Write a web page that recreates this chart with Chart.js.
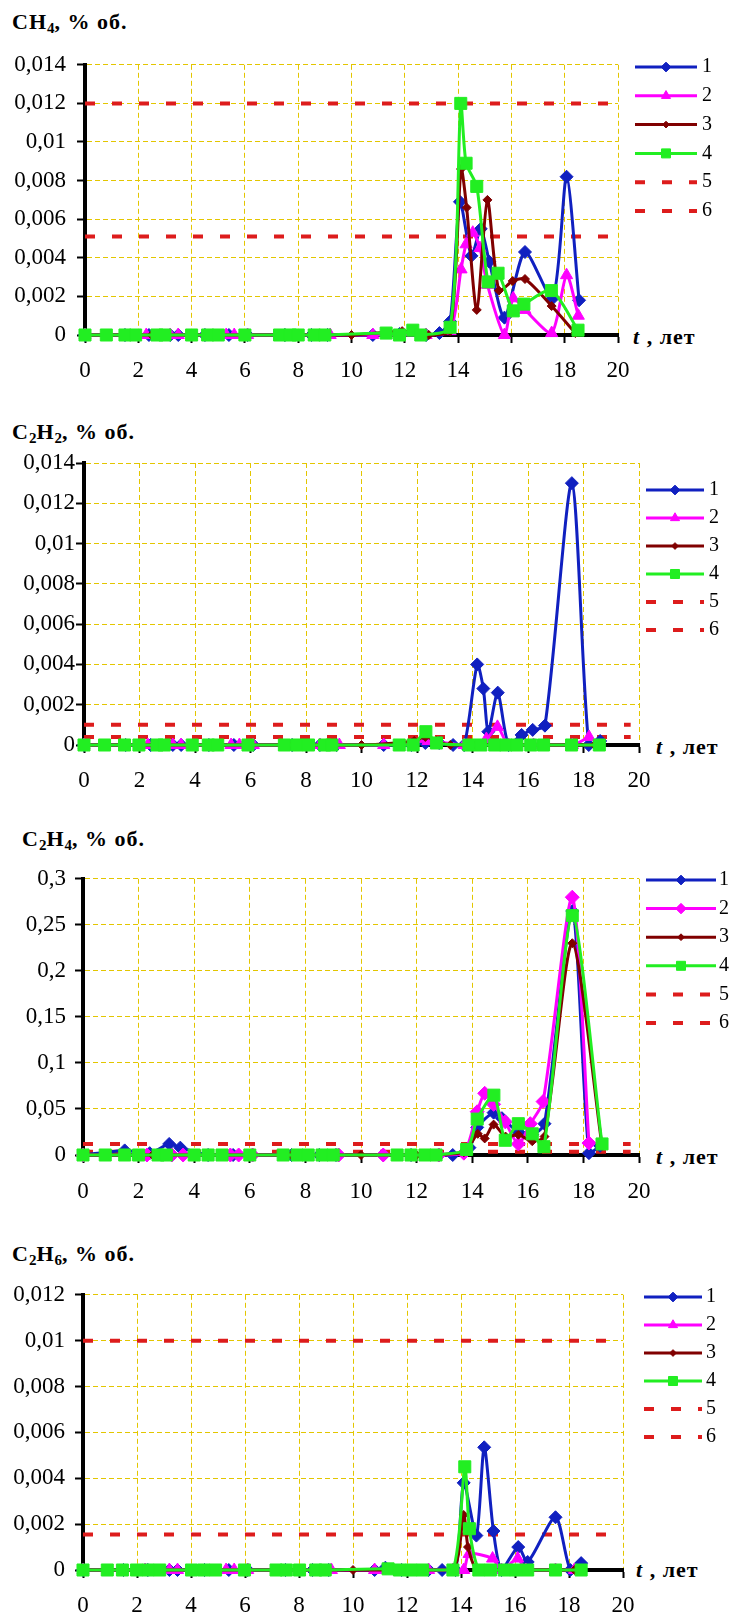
<!DOCTYPE html>
<html lang="ru">
<head>
<meta charset="utf-8">
<title>CH4, C2H2, C2H4, C2H6</title>
<script src="https://cdn.jsdelivr.net/npm/chart.js@4.4.1/dist/chart.umd.min.js"></script>
<style>
  html, body { margin: 0; padding: 0; background: #fff; }
  body { position: relative; width: 730px; height: 1618px; overflow: hidden; font-family: "Liberation Serif", "Times New Roman", serif; }
  canvas { position: absolute; left: 0; }
  .ttl { position: absolute; font-size: 22px; font-weight: bold; letter-spacing: 1px; white-space: nowrap; }
  .ttl sub { font-size: 15px; vertical-align: -4px; line-height: 0; letter-spacing: 0; }
  .tl { position: absolute; font-size: 22px; font-weight: bold; letter-spacing: 1px; white-space: nowrap; }
</style>
</head>
<body>
<div class="ttl" style="left:12px;top:9px">CH<sub>4</sub>, % об.</div>
<div class="ttl" style="left:12px;top:419px">C<sub>2</sub>H<sub>2</sub>, % об.</div>
<div class="ttl" style="left:22px;top:826px">C<sub>2</sub>H<sub>4</sub>, % об.</div>
<div class="ttl" style="left:12px;top:1241px">C<sub>2</sub>H<sub>6</sub>, % об.</div>
<div class="tl" style="left:633px;top:324px"><i>t</i> , лет</div>
<div class="tl" style="left:656px;top:734px"><i>t</i> , лет</div>
<div class="tl" style="left:656px;top:1144px"><i>t</i> , лет</div>
<div class="tl" style="left:636px;top:1557px"><i>t</i> , лет</div>

<canvas id="ch4" width="730" height="360" style="top:40px"></canvas>
<canvas id="c2h2" width="730" height="360" style="top:448px"></canvas>
<canvas id="c2h4" width="730" height="360" style="top:856px"></canvas>
<canvas id="c2h6" width="730" height="347" style="top:1271px"></canvas>

<script>
// --- данные ---
const seriesNames = ['1', '2', '3', '4', '5', '6'];
const tTicks = [0, 2, 4, 6, 8, 10, 12, 14, 16, 18, 20];
const limT = [0, 19.7];

// CH4
const ch4Ticks = [0, 0.002, 0.004, 0.006, 0.008, 0.01, 0.012, 0.014];
const ch4T1 = [0, 1.5, 2.4, 3.2, 3.5, 4.5, 5.4, 6.1, 7.5, 8.5, 9.1, 10.8, 11.8, 12.8, 13.3, 13.7, 14.07, 14.5, 14.85, 15.17, 15.74, 16.51, 17.55, 18.07, 18.54];
const ch4V1 = [0, 0, 0, 0, 0, 0, 0, 0, 0, 0, 0, 0, 0.00005, 0, 0.0001, 0.0007, 0.0069, 0.0041, 0.0055, 0.0038, 0.0009, 0.0043, 0.0019, 0.0082, 0.0018];
const ch4T2 = [0, 2.3, 3.2, 3.5, 5.3, 5.6, 6.1, 9.2, 10.8, 12.8, 13.7, 14.11, 14.3, 14.55, 14.82, 15.1, 15.74, 16.07, 16.51, 17.51, 18.07, 18.51];
const ch4V2 = [0, 0, 0, 0, 0, 0, 0, 0, 0, 0, 0.0002, 0.0034, 0.0047, 0.0053, 0.0045, 0.0026, 0, 0.0019, 0.0013, 0.0001, 0.0031, 0.001];
const ch4T3 = [0, 2.5, 4.5, 7.5, 10.0, 11.9, 12.9, 13.7, 14.11, 14.32, 14.7, 15.1, 15.53, 16.05, 16.51, 17.51, 18.4];
const ch4V3 = [0, 0, 0, 0, 0, 0.0002, 0, 0.0002, 0.0086, 0.0066, 0.0013, 0.007, 0.0023, 0.0028, 0.0029, 0.0015, 0.0001];
const ch4T4 = [0, 0.8, 1.5, 1.9, 2.7, 3.0, 4.0, 4.6, 5.0, 6.0, 7.3, 7.7, 8.0, 8.6, 9.0, 11.3, 11.8, 12.3, 12.6, 13.7, 14.1, 14.3, 14.7, 15.13, 15.5, 16.07, 16.47, 17.5, 18.5];
const ch4V4 = [0, 0, 0, 0, 0, 0, 0, 0, 0, 0, 0, 0, 0, 0, 0, 0.0001, 0, 0.00025, 0, 0.0004, 0.012, 0.0089, 0.0077, 0.00275, 0.0032, 0.00125, 0.0016, 0.0023, 0.00025];
const ch4Lim5 = [0.012, 0.012];
const ch4Lim6 = [0.0051, 0.0051];

// C2H2
const c2h2Ticks = [0, 0.002, 0.004, 0.006, 0.008, 0.01, 0.012, 0.014];
const c2h2T1 = [0, 1.5, 2.4, 3.2, 3.5, 4.5, 5.4, 6.1, 7.5, 8.5, 9.1, 10.8, 11.8, 12.3, 12.8, 13.3, 13.7, 14.17, 14.39, 14.57, 14.91, 15.3, 15.77, 16.17, 16.61, 17.58, 18.19, 18.6];
const c2h2V1 = [0, 0, 0, 0, 0, 0, 0, 0, 0, 0, 0, 0, 0, 0.0001, 0.0001, 0, 0, 0.004, 0.0028, 0.00066, 0.0026, 0, 0.0005, 0.00075, 0.00096, 0.013, 0, 0.0002];
const c2h2T2 = [0, 2.3, 3.2, 3.5, 5.3, 5.6, 6.1, 8.5, 9.2, 10.8, 12.4, 13.7, 14.5, 14.9, 15.3, 16.2, 17.6, 18.2];
const c2h2V2 = [0, 0, 0, 0, 0, 0, 0, 0, 0, 0, 0.0002, 0, 0.0003, 0.0009, 0, 0, 0, 0.0004];
const c2h2T3 = [0, 2.5, 4.5, 7.5, 10.0, 11.9, 12.3, 12.7, 13.2, 14.1, 15.0, 16.5, 17.6, 18.4];
const c2h2V3 = [0, 0, 0, 0, 0, 0.0002, 0.0004, 0.0002, 0, 0, 0, 0, 0, 0];
const c2h2T4 = [0, 0.74, 1.46, 1.98, 2.63, 2.89, 3.9, 4.48, 4.82, 5.91, 7.22, 7.67, 8.09, 8.67, 8.93, 11.36, 11.86, 12.32, 12.7, 13.87, 14.3, 14.8, 15.2, 15.6, 16.1, 16.56, 17.57, 18.57];
const c2h2V4 = [0, 0, 0, 0, 0, 0, 0, 0, 0, 0, 0, 0, 0, 0, 0, 0, 0, 0.00066, 0.0001, 0, 0, 0, 0, 0, 0, 0, 0, 0];
const c2h2Lim5 = [0.001, 0.001];
const c2h2Lim6 = [0.0004, 0.0004];

// C2H4
const c2h4Ticks = [0, 0.05, 0.1, 0.15, 0.2, 0.25, 0.3];
const c2h4T1 = [0, 1.5, 2.4, 3.1, 3.5, 4.5, 5.4, 6.1, 7.5, 8.5, 9.1, 10.8, 11.8, 12.8, 13.3, 13.9, 14.18, 14.77, 15.07, 15.66, 16.16, 16.6, 17.6, 18.2, 18.6];
const c2h4V1 = [0, 0.005, 0.002, 0.012, 0.008, 0, 0, 0, 0, 0, 0, 0, 0, 0, 0, 0.008, 0.03, 0.046, 0.04, 0.025, 0.022, 0.034, 0.265, 0.002, 0.01];
const c2h4T2 = [0, 2.3, 3.2, 3.6, 5.3, 5.6, 6.1, 9.2, 10.8, 12.8, 13.7, 14.18, 14.45, 14.77, 15.19, 15.66, 16.09, 16.55, 17.6, 18.2];
const c2h4V2 = [0, 0, 0, 0, 0, 0, 0, 0, 0, 0, 0.002, 0.047, 0.067, 0.055, 0.036, 0.012, 0.034, 0.058, 0.28, 0.013];
const c2h4T3 = [0, 2.5, 4.5, 7.5, 10.0, 12.0, 13.7, 14.2, 14.45, 14.77, 15.2, 15.66, 16.16, 16.6, 17.6, 18.67];
const c2h4V3 = [0, 0, 0, 0, 0, 0, 0.003, 0.023, 0.018, 0.033, 0.02, 0.022, 0.015, 0.02, 0.23, 0.01];
const c2h4T4 = [0, 0.8, 1.5, 2.0, 2.7, 3.0, 4.0, 4.5, 5.0, 6.0, 7.2, 7.7, 8.1, 8.6, 9.0, 11.3, 11.8, 12.3, 12.7, 13.8, 14.18, 14.78, 15.19, 15.66, 16.16, 16.58, 17.6, 18.67];
const c2h4V4 = [0, 0, 0, 0, 0, 0, 0, 0, 0, 0, 0, 0, 0, 0, 0, 0, 0, 0, 0, 0.006, 0.039, 0.065, 0.016, 0.034, 0.023, 0.009, 0.26, 0.012];
const c2h4Lim5 = [0.012, 0.012];
const c2h4Lim6 = [0.0035, 0.0035];

// C2H6
const c2h6Ticks = [0, 0.002, 0.004, 0.006, 0.008, 0.01, 0.012];
const c2h6T1 = [0, 1.5, 2.4, 3.2, 3.5, 4.5, 5.4, 6.1, 7.5, 8.5, 9.1, 10.8, 11.2, 11.8, 12.8, 13.3, 13.8, 14.1, 14.57, 14.86, 15.2, 15.5, 16.12, 16.47, 17.5, 18.05, 18.45];
const c2h6V1 = [0, 0, 0, 0, 0, 0, 0, 0, 0, 0, 0, 0, 0.0001, 0, 0, 0, 0, 0.0038, 0.0015, 0.00535, 0.0017, 0, 0.001, 0.00035, 0.0023, 0, 0.0003];
const c2h6T2 = [0, 2.3, 3.2, 3.5, 5.3, 5.6, 6.1, 9.2, 10.8, 11.2, 12.8, 13.7, 14.1, 14.3, 15.17, 15.5, 16.1, 16.4, 17.5, 18.2];
const c2h6V2 = [0, 0, 0, 0, 0, 0, 0, 0, 0, 0, 0, 0, 0, 0.0007, 0.0005, 0, 0.0005, 0, 0, 0];
const c2h6T3 = [0, 2.5, 4.5, 7.5, 10.0, 12.0, 13.7, 14.1, 14.26, 14.6, 15.5, 16.5, 17.5, 18.2];
const c2h6V3 = [0, 0, 0, 0, 0, 0, 0, 0.0024, 0.001, 0, 0, 0, 0, 0];
const c2h6T4 = [0, 0.9, 1.46, 1.98, 2.41, 2.84, 4.02, 4.48, 4.91, 5.98, 7.15, 7.53, 8.02, 8.62, 8.97, 11.3, 11.72, 12.15, 12.58, 13.7, 14.14, 14.31, 14.66, 15.09, 15.6, 16.03, 16.47, 17.5, 18.45];
const c2h6V4 = [0, 0, 0, 0, 0, 0, 0, 0, 0, 0, 0, 0, 0, 0, 0, 0.00005, 0, 0, 0, 0, 0.0045, 0.0018, 0, 0, 0, 0, 0, 0, 0];
const c2h6Lim5 = [0.01, 0.01];
const c2h6Lim6 = [0.00155, 0.00155];

// --- оформление ---
const styles = [
    { color: '#1020c0', point: 'rectRot', r: 6.5 },
    { color: '#ff00ff', point: 'triangle', r: 7 },
    { color: '#800000', point: 'rectRot', r: 4.5 },
    { color: '#22ee22', point: 'rect', r: 8.5 }
];
const limColor = '#dd1c1c';
const gridColor = '#e3c600';
const fontFamily = "'Liberation Serif', 'Times New Roman', serif";

const fmt = v => String(+v.toFixed(4)).replace('.', ',');
const series = (T, V) => T.map((t, i) => ({ x: t, y: V[i] }));

// leyenda lateral: linea + marcador + numero
const sideLegend = {
    id: 'sideLegend',
    afterDraw(chart, args, opts) {
        const ctx = chart.ctx;
        chart.data.datasets.forEach((ds, i) => {
            const y = opts.y0 + i * opts.dy;
            ctx.save();
            ctx.strokeStyle = ds.borderColor;
            ctx.lineWidth = ds.borderWidth;
            ctx.setLineDash(ds.borderDash || []);
            ctx.beginPath();
            ctx.moveTo(opts.x1, y);
            ctx.lineTo(opts.x2, y);
            ctx.stroke();
            ctx.setLineDash([]);
            if (ds.pointRadius > 0) {
                ctx.fillStyle = ds.pointBackgroundColor;
                ctx.strokeStyle = ds.pointBorderColor;
                ctx.lineWidth = 1;
                Chart.helpers.drawPoint(ctx, { pointStyle: ds.pointStyle, radius: ds.pointRadius * 0.75, rotation: 0, borderWidth: 1 }, (opts.x1 + opts.x2) / 2, y);
            }
            ctx.fillStyle = '#000';
            ctx.font = '20px ' + fontFamily;
            ctx.textBaseline = 'middle';
            ctx.textAlign = 'left';
            ctx.fillText(ds.label, opts.tx, y);
            ctx.restore();
        });
    }
};

function makeChart(id, g, yTicks, lines, lims, pointOverride) {
    const datasets = lines.map((s, i) => ({
        label: seriesNames[i],
        data: series(s[0], s[1]),
        showLine: true,
        borderColor: styles[i].color,
        backgroundColor: styles[i].color,
        pointBackgroundColor: styles[i].color,
        pointBorderColor: styles[i].color,
        borderWidth: 3,
        pointStyle: (pointOverride && pointOverride[i]) || styles[i].point,
        pointRadius: styles[i].r,
        pointBorderWidth: 1,
        tension: 0.25,
        clip: false,
        order: 4 - i
    }));
    lims.forEach((v, k) => datasets.push({
        label: seriesNames[4 + k],
        data: series(limT, v),
        showLine: true,
        borderColor: limColor,
        backgroundColor: limColor,
        borderWidth: 4,
        borderDash: [10, 17],
        pointRadius: 0,
        clip: false,
        order: 5 + k
    }));

    const axisCommon = {
        grid: { color: gridColor, lineWidth: 1, tickColor: '#000', tickWidth: 2, tickLength: 8 },
        border: { display: true, color: '#000', width: 4, dash: [5, 3] }
    };

    return new Chart(document.getElementById(id), {
        type: 'scatter',
        data: { datasets },
        options: {
            responsive: false,
            animation: false,
            devicePixelRatio: 1,
            layout: { padding: { top: g.top, right: 730 - g.right, left: 0, bottom: 0 } },
            plugins: { legend: { display: false }, tooltip: { enabled: false }, sideLegend: g.legend },
            scales: {
                x: {
                    type: 'linear', min: 0, max: 20,
                    afterBuildTicks: s => { s.ticks = tTicks.map(v => ({ value: v })); },
                    afterFit: s => { s.height = g.xh; },
                    ticks: { color: '#000', padding: g.xPad, maxRotation: 0, font: { family: fontFamily, size: 23 }, callback: v => fmt(v) },
                    ...axisCommon
                },
                y: {
                    type: 'linear', min: 0, max: yTicks[yTicks.length - 1],
                    afterBuildTicks: s => { s.ticks = yTicks.map(v => ({ value: v })); },
                    afterFit: s => { s.width = g.left; },
                    ticks: { color: '#000', padding: g.yPad, font: { family: fontFamily, size: 23 }, callback: v => fmt(v) },
                    ...axisCommon
                }
            }
        },
        plugins: [sideLegend]
    });
}

makeChart('ch4',
    { top: 15, left: 85, right: 618, xh: 65, xPad: 14, yPad: 11, legend: { x1: 635, x2: 697, tx: 702, y0: 27, dy: 28.8 } },
    ch4Ticks,
    [[ch4T1, ch4V1], [ch4T2, ch4V2], [ch4T3, ch4V3], [ch4T4, ch4V4]],
    [ch4Lim5, ch4Lim6]);

makeChart('c2h2',
    { top: 15, left: 84, right: 639, xh: 63, xPad: 14, yPad: 1, legend: { x1: 646, x2: 704, tx: 709, y0: 42, dy: 28 } },
    c2h2Ticks,
    [[c2h2T1, c2h2V1], [c2h2T2, c2h2V2], [c2h2T3, c2h2V3], [c2h2T4, c2h2V4]],
    [c2h2Lim5, c2h2Lim6]);

makeChart('c2h4',
    { top: 15, left: 83, right: 639, xh: 61, xPad: 15, yPad: 9, legend: { x1: 646, x2: 716, tx: 719, y0: 24, dy: 28.6 } },
    c2h4Ticks,
    [[c2h4T1, c2h4V1], [c2h4T2, c2h4V2], [c2h4T3, c2h4V3], [c2h4T4, c2h4V4]],
    [c2h4Lim5, c2h4Lim6],
    [null, 'rectRot', null, null]);

makeChart('c2h6',
    { top: 15, left: 83, right: 623, xh: 48, xPad: 14, yPad: 10, legend: { x1: 644, x2: 702, tx: 706, y0: 26, dy: 28 } },
    c2h6Ticks,
    [[c2h6T1, c2h6V1], [c2h6T2, c2h6V2], [c2h6T3, c2h6V3], [c2h6T4, c2h6V4]],
    [c2h6Lim5, c2h6Lim6]);
</script>
</body>
</html>
